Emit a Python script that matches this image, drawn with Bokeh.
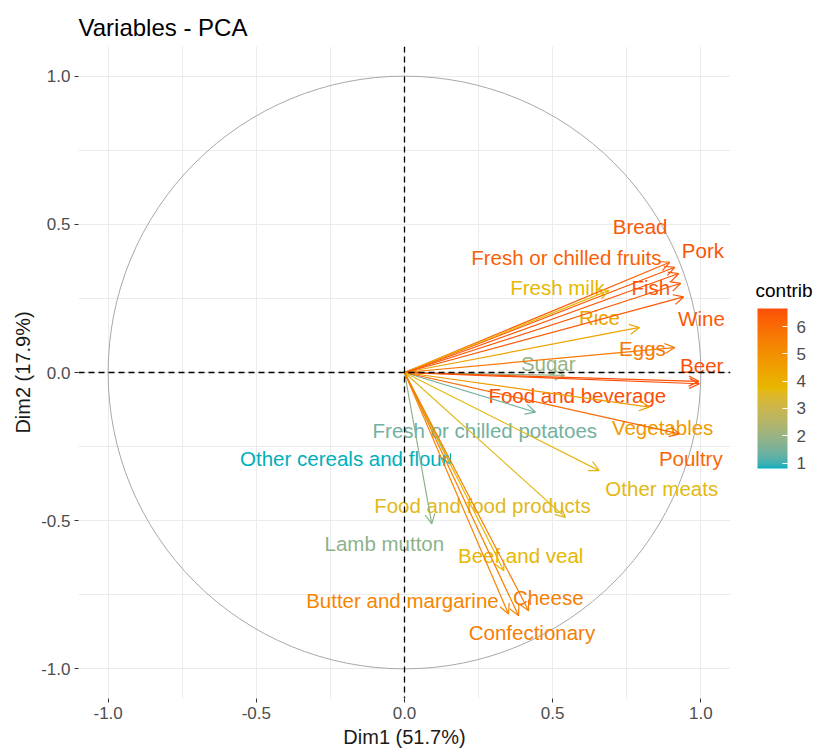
import numpy as np
from bokeh.plotting import figure
from bokeh.models import (Arrow, OpenHead, ColumnDataSource, LinearColorMapper, ColorBar,
                          FixedTicker, Span, PrintfTickFormatter, Range1d)
from bokeh.embed import file_html
from bokeh.resources import INLINE
from bokeh.core.properties import value

# ---------------- data ----------------
variables = ["Bread", "Pork", "Fresh or chilled fruits", "Fresh milk", "Fish", "Rice",
             "Wine", "Eggs", "Sugar", "Beer", "Food and beverage",
             "Fresh or chilled potatoes", "Vegetables", "Other cereals and flour",
             "Poultry", "Other meats", "Food and food products", "Lamb mutton",
             "Beef and veal", "Butter and margarine", "Cheese", "Confectionary"]
dim1 = [0.912, 0.925, 0.895, 0.690, 0.932, 0.793, 0.942, 0.912, 0.540, 0.993, 0.995,
        0.442, 0.826, 0.155, 0.928, 0.657, 0.543, 0.092, 0.335, 0.351, 0.419, 0.385]
dim2 = [0.355, 0.334, 0.372, 0.277, 0.301, 0.152, 0.255, 0.084, -0.010, -0.030, -0.038,
        -0.134, -0.117, -0.310, -0.207, -0.331, -0.489, -0.511, -0.669, -0.815, -0.804, -0.821]
contrib = [6.44, 6.50, 6.31, 3.72, 6.45, 4.38, 6.40, 5.64, 1.96, 6.63, 6.66,
           1.43, 4.68, 0.80, 6.07, 3.64, 3.59, 1.81, 3.76, 5.29, 5.52, 5.52]
# repelled label positions (data units)
label_x = [0.795, 1.007, 0.546, 0.516, 0.831, 0.658, 1.002, 0.803, 0.485, 1.003, 0.583,
           0.271, 0.871, -0.203, 0.966, 0.868, 0.263, -0.068, 0.392, -0.007, 0.485, 0.430]
label_y = [0.493, 0.412, 0.389, 0.287, 0.287, 0.186, 0.182, 0.081, 0.030, 0.024, -0.078,
           -0.196, -0.186, -0.291, -0.290, -0.392, -0.449, -0.578, -0.618, -0.770, -0.760, -0.878]

axis_ticks = [-1.0, -0.5, 0.0, 0.5, 1.0]
axis_minor_ticks = [-0.75, -0.25, 0.25, 0.75]
contrib_ticks = [1, 2, 3, 4, 5, 6]
circle_radius = 1.0

# ---------------- palette (ggplot gradientn in Lab space) ----------------
anchors = ["#00AFBB", "#E7B800", "#FC4E07"]

def _to_lab(h):
    rgb = np.array([int(h[i:i + 2], 16) / 255 for i in (1, 3, 5)])
    lin = np.where(rgb <= 0.04045, rgb / 12.92, ((rgb + 0.055) / 1.055) ** 2.4)
    M = np.array([[0.4124564, 0.3575761, 0.1804375],
                  [0.2126729, 0.7151522, 0.0721750],
                  [0.0193339, 0.1191920, 0.9503041]])
    xyz = M @ lin / np.array([0.95047, 1.0, 1.08883])
    f = np.where(xyz > 0.008856, np.cbrt(xyz), 7.787 * xyz + 16 / 116)
    return np.array([116 * f[1] - 16, 500 * (f[0] - f[1]), 200 * (f[1] - f[2])])

def _to_hex(lab):
    fy = (lab[0] + 16) / 116
    f = np.array([fy + lab[1] / 500, fy, fy - lab[2] / 200])
    xyz = np.where(f ** 3 > 0.008856, f ** 3, (f - 16 / 116) / 7.787) * np.array([0.95047, 1.0, 1.08883])
    Mi = np.array([[3.2404542, -1.5371385, -0.4985314],
                   [-0.9692660, 1.8760108, 0.0415560],
                   [0.0556434, -0.2040259, 1.0572252]])
    lin = Mi @ xyz
    rgb = np.where(lin <= 0.0031308, 12.92 * lin, 1.055 * np.clip(lin, 0, None) ** (1 / 2.4) - 0.055)
    rgb = np.clip(rgb, 0, 1)
    return "#%02x%02x%02x" % tuple(int(round(c * 255)) for c in rgb)

labs = [_to_lab(c) for c in anchors]
palette = []
for t in np.linspace(0, 1, 256):
    seg = min(int(t * 2), 1)
    u = t * 2 - seg
    palette.append(_to_hex(labs[seg] * (1 - u) + labs[seg + 1] * u))

mapper = LinearColorMapper(palette=palette, low=min(contrib), high=max(contrib))
cmap = {"field": "contrib", "transform": mapper}

src = ColumnDataSource(dict(name=variables, x1=dim1, y1=dim2, contrib=contrib,
                            x0=[0.0] * len(dim1), y0=[0.0] * len(dim2),
                            lx=label_x, ly=label_y))

FONT = "Liberation Sans"
FRAME = 652

p = figure(frame_width=FRAME, frame_height=FRAME,
           x_range=Range1d(-1.1, 1.1), y_range=Range1d(-1.1, 1.1),
           output_backend="svg", toolbar_location=None,
           min_border_left=78, min_border_right=85, min_border_top=46, min_border_bottom=48,
           title="Variables - PCA")
p.outline_line_color = None
p.background_fill_color = "white"
p.border_fill_color = "white"

p.title.text_font = FONT
p.title.text_font_size = "24px"
p.title.text_font_style = "normal"
p.title.text_color = "#000000"
p.title.standoff = 12

for ax in (p.xaxis[0], p.yaxis[0]):
    ax.ticker = FixedTicker(ticks=axis_ticks, minor_ticks=axis_minor_ticks)
    ax.formatter = PrintfTickFormatter(format="%.1f")
    ax.axis_line_color = None
    ax.major_tick_line_color = "#333333"
    ax.major_tick_out = 4
    ax.major_tick_in = 0
    ax.minor_tick_line_color = None
    ax.major_label_text_font = FONT
    ax.major_label_text_font_size = "17px"
    ax.major_label_text_color = "#4D4D4D"
    ax.axis_label_text_font = FONT
    ax.axis_label_text_font_size = "20px"
    ax.axis_label_text_font_style = "normal"
    ax.axis_label_text_color = "#1A1A1A"
    ax.major_label_standoff = 4
    ax.axis_label_standoff = 4
p.xaxis.axis_label = "Dim1 (51.7%)"
p.yaxis.axis_label = "Dim2 (17.9%)"

for g in (p.xgrid[0], p.ygrid[0]):
    g.grid_line_color = "#EBEBEB"
    g.grid_line_width = 1
    g.minor_grid_line_color = "#EBEBEB"
    g.minor_grid_line_width = 1

# correlation circle
p.ellipse(x=[0.0], y=[0.0], width=[2 * circle_radius], height=[2 * circle_radius],
          fill_color=None, line_color="#A8A8A8", line_width=1)

# arrows
arrows = Arrow(source=src, x_start="x0", y_start="y0", x_end="x1", y_end="y1",
               line_color=cmap, line_width=1.2,
               end=OpenHead(size=10, line_color=cmap, line_width=1.2))
p.add_layout(arrows)

# labels
p.text(x="lx", y="ly", text="name", source=src, text_color=cmap,
       text_font=value(FONT), text_font_size="20.5px",
       text_align="center", text_baseline="middle")

# dashed axes
p.add_layout(Span(location=0, dimension="width", line_dash="6 4", line_color="black", line_width=1.3))
p.add_layout(Span(location=0, dimension="height", line_dash="6 4", line_color="black", line_width=1.3))

# colour bar (drawn to the right of the panel)
cb = ColorBar(color_mapper=mapper, ticker=FixedTicker(ticks=contrib_ticks),
              orientation="vertical",
              width=30, height=160, padding=0, location=(FRAME + 27, 230),
              major_label_text_font=FONT, major_label_text_font_size="17px",
              major_label_text_color="#4D4D4D", label_standoff=9,
              major_tick_line_color="white", major_tick_in=5, major_tick_out=0,
              bar_line_color=None, background_fill_color=None, border_line_color=None)
p.add_layout(cb)

# horizontal legend title "contrib" (carried by an invisible horizontal colour bar)
cb_title = ColorBar(color_mapper=mapper, ticker=FixedTicker(ticks=[]),
                    orientation="horizontal", width=58, height=1, padding=0,
                    location=(FRAME + 25, 396), scale_alpha=0.0,
                    title="contrib", title_text_font=FONT, title_text_font_size="19px",
                    title_text_font_style="normal", title_text_color="#000000",
                    title_standoff=2, major_label_text_alpha=0.0,
                    major_tick_line_color=None, minor_tick_line_color=None,
                    bar_line_color=None, background_fill_color=None, border_line_color=None)
p.add_layout(cb_title)

open("out.html", "w").write(file_html(p, INLINE))
